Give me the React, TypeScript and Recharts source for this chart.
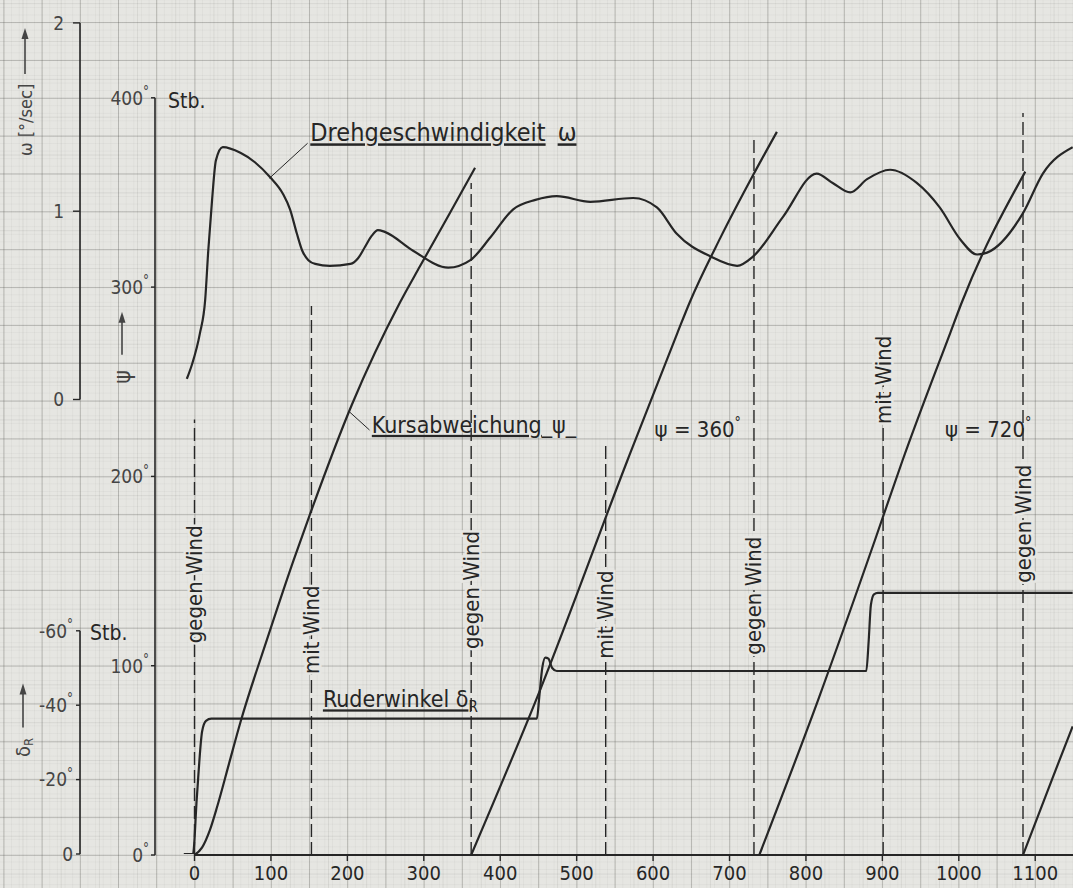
import React from 'react'
import { ComposedChart, Line, XAxis, YAxis, ReferenceLine, ReferenceDot } from 'recharts'

// Drehkreisversuch: Drehgeschwindigkeit, Kursabweichung und Ruderwinkel über der Zeit.
// Drei übereinandergelegte Charts mit gemeinsamer Zeitskala, jeder mit seiner eigenen Ordinate.

const W = 1073
const H = 888

// Maßstab des Originalblatts (Pixel)
const X0 = 194.5 // t = 0 s
const PX_PER_S = 0.7643
const PSI_ZERO = 855
const PX_PER_DEG = 1.893
const OMEGA_ZERO = 399.5
const PX_PER_OMEGA = 188.3
const RUDDER_ZERO = 854
const PX_PER_RUDDER_DEG = 3.72

const tAt = (px: number) => (px - X0) / PX_PER_S
const T_MAX = tAt(W)

const INK = '#262626'
const SOFT_INK = '#454545'
const PAPER = '#e6e6e2'
const FONT = "'DejaVu Sans Condensed', 'DejaVu Sans', sans-serif"

// --- Werte ---
const TIME_TICKS = [0, 100, 200, 300, 400, 500, 600, 700, 800, 900, 1000, 1100]
const PSI_TICKS = [0, 100, 200, 300, 400]
const OMEGA_TICKS = [0, 1, 2]
const RUDDER_TICKS = [0, -20, -40, -60]

// Kursabweichung psi [deg], nach jeweils 360° neu bei 0 begonnen
const psiRun1 = [
  { t: 0, psi: 0 }, { t: 10, psi: 4 }, { t: 20, psi: 13 }, { t: 30, psi: 26 }, { t: 45, psi: 48 },
  { t: 60, psi: 70 }, { t: 95, psi: 114 }, { t: 129, psi: 155 }, { t: 152, psi: 181 }, { t: 206, psi: 238 },
  { t: 269, psi: 292 }, { t: 295, psi: 311 }, { t: 334, psi: 339 }, { t: 367, psi: 363 },
]
const psiRun2 = [
  { t: 362, psi: 0 }, { t: 452, psi: 87 }, { t: 566, psi: 208 }, { t: 632, psi: 276 },
  { t: 648, psi: 292 }, { t: 688, psi: 326 }, { t: 732, psi: 360 }, { t: 762, psi: 382 },
]
const psiRun3 = [
  { t: 739, psi: 0 }, { t: 816, psi: 82 }, { t: 890, psi: 166 }, { t: 926, psi: 208 },
  { t: 989, psi: 276 }, { t: 1004, psi: 292 }, { t: 1087, psi: 361 },
]
const psiRun4 = [{ t: 1084, psi: 0 }, { t: 1122, psi: 40 }, { t: 1149, psi: 68 }]

// Drehgeschwindigkeit omega [deg/s]
const omega = [
  { t: -10, w: 0.11 }, { t: -3, w: 0.19 }, { t: 7, w: 0.35 }, { t: 14, w: 0.53 }, { t: 18, w: 0.79 },
  { t: 23, w: 1.06 }, { t: 28, w: 1.27 }, { t: 37, w: 1.34 }, { t: 60, w: 1.31 }, { t: 79, w: 1.26 },
  { t: 99, w: 1.18 }, { t: 116, w: 1.09 }, { t: 125, w: 1.01 }, { t: 134, w: 0.88 }, { t: 141, w: 0.79 },
  { t: 149, w: 0.74 }, { t: 158, w: 0.72 }, { t: 177, w: 0.71 }, { t: 204, w: 0.72 }, { t: 214, w: 0.75 },
  { t: 223, w: 0.81 }, { t: 232, w: 0.87 }, { t: 240, w: 0.9 }, { t: 249, w: 0.89 }, { t: 286, w: 0.79 },
  { t: 332, w: 0.7 }, { t: 361, w: 0.74 }, { t: 387, w: 0.86 }, { t: 417, w: 1.01 }, { t: 446, w: 1.06 },
  { t: 474, w: 1.08 }, { t: 518, w: 1.05 }, { t: 574, w: 1.07 }, { t: 605, w: 1.02 }, { t: 631, w: 0.88 },
  { t: 675, w: 0.76 }, { t: 710, w: 0.71 }, { t: 731, w: 0.76 }, { t: 770, w: 0.97 }, { t: 814, w: 1.2 },
  { t: 835, w: 1.15 }, { t: 858, w: 1.1 }, { t: 880, w: 1.17 }, { t: 910, w: 1.22 }, { t: 945, w: 1.15 },
  { t: 975, w: 1.02 }, { t: 1002, w: 0.85 }, { t: 1024, w: 0.77 }, { t: 1037, w: 0.78 }, { t: 1084, w: 0.99 },
  { t: 1110, w: 1.2 }, { t: 1149, w: 1.34 },
]

// Ruderwinkel delta_R [deg], Steuerbord negativ
const rudder = [
  { t: -14, d: 0 }, { t: -2, d: 0 }, { t: 3, d: -15 }, { t: 10, d: -33 }, { t: 15, d: -35.8 },
  { t: 22, d: -36.4 }, { t: 448, d: -36.4 }, { t: 451, d: -42 }, { t: 455, d: -50 }, { t: 459, d: -52.8 },
  { t: 463, d: -52.5 }, { t: 468, d: -50 }, { t: 474, d: -49.2 }, { t: 879, d: -49.2 }, { t: 882, d: -57 },
  { t: 885, d: -67 }, { t: 889, d: -69.8 }, { t: 894, d: -70.2 }, { t: 1149, d: -70.2 },
]

// Windrichtung: Zeitpunkt [s] und Beschriftung
const windTimes = [0, 153, 362, 538, 732, 901, 1084]
const windLabels = ['gegen Wind', 'mit Wind', 'gegen Wind', 'mit Wind', 'gegen Wind', 'mit Wind', 'gegen Wind']
// Layout: Oberkante der Strichlinie und Mitte der Beschriftung, in psi-Grad
const windLineTop = [230, 290, 355, 217, 379, 275, 392]
const windLabelAt = [143, 119, 140, 127, 137, 251, 175]

const center = (p: any) => {
  const vb = p?.viewBox ?? {}
  return { x: (vb.x ?? 0) + (vb.width ?? 0) / 2, y: (vb.y ?? 0) + (vb.height ?? 0) / 2 }
}

const underline = { textDecoration: 'underline', textDecorationThickness: '2px', textUnderlineOffset: '4px' } as React.CSSProperties

function DegreeTick(props: any) {
  const { x, y, payload, size = 18, zeroDeg = true } = props
  const v = payload.value
  return (
    <text x={x} y={y} textAnchor="end" fontFamily={FONT} fontSize={size} fill={SOFT_INK}>
      <tspan dy={size * 0.36}>{String(v)}</tspan>
      {(v !== 0 || zeroDeg) && (
        <tspan dy={-size * 0.45} fontSize={size * 0.7}>°</tspan>
      )}
    </text>
  )
}

function Arrow({ x, y1, y2 }: { x: number; y1: number; y2: number }) {
  return (
    <g>
      <line x1={x} y1={y1} x2={x} y2={y2 + 8} stroke={SOFT_INK} strokeWidth={1.6} />
      <polygon points={`${x},${y2} ${x - 3.5},${y2 + 11} ${x + 3.5},${y2 + 11}`} fill={SOFT_INK} />
    </g>
  )
}

function OmegaTitle(p: any) {
  const vb = p.viewBox
  const cx = vb.x + 25
  return (
    <g>
      <text transform={`translate(${cx} ${vb.y + 97}) rotate(-90)`} textAnchor="middle" dominantBaseline="central"
        fontFamily={FONT} fontSize={18} fill={SOFT_INK}>ω [°/sec]</text>
      <Arrow x={cx} y1={vb.y + 51} y2={vb.y + 5} />
    </g>
  )
}

function PsiTitle(p: any) {
  const vb = p.viewBox
  const ax = vb.x + vb.width
  const cx = ax - 33
  return (
    <g>
      <text x={ax + 13} y={vb.y + 10} fontFamily={FONT} fontSize={21} fill={INK}>Stb.</text>
      <text transform={`translate(${cx} ${vb.y + 279}) rotate(-90)`} textAnchor="middle" dominantBaseline="central"
        fontFamily={FONT} fontSize={23} fill={SOFT_INK}>ψ</text>
      <Arrow x={cx} y1={vb.y + 257} y2={vb.y + 214} />
    </g>
  )
}

function RudderTitle(p: any) {
  const vb = p.viewBox
  const ax = vb.x + vb.width
  const cx = vb.x + 23
  return (
    <g>
      <text x={ax + 10} y={vb.y + 84} fontFamily={FONT} fontSize={21} fill={INK}>Stb.</text>
      <text transform={`translate(${cx} ${vb.y + 191}) rotate(-90)`} textAnchor="middle" dominantBaseline="central"
        fontFamily={FONT} fontSize={20} fill={SOFT_INK}>
        δ<tspan dy={5} fontSize={13}>R</tspan>
      </text>
      <Arrow x={cx} y1={vb.y + 171} y2={vb.y + 127} />
    </g>
  )
}

function WindText({ p, text }: { p: any; text: string }) {
  const { x, y } = center(p)
  return (
    <text transform={`translate(${x} ${y}) rotate(-90)`} textAnchor="middle" dominantBaseline="central"
      fontFamily={FONT} fontSize={22} fill={INK} stroke={PAPER} strokeWidth={5} paintOrder="stroke">
      {text}
    </text>
  )
}

function Note({ p, size, children }: { p: any; size: number; children: React.ReactNode }) {
  const { x, y } = center(p)
  return (
    <text x={x} y={y} fontFamily={FONT} fontSize={size} fill={INK}>{children}</text>
  )
}

const layer: React.CSSProperties = { position: 'absolute', left: 0, top: 0 }

function OmegaChart() {
  const top = OMEGA_ZERO - 2 * PX_PER_OMEGA
  return (
    <div style={layer}>
      <ComposedChart width={W} height={H} margin={{ top, right: 0, bottom: H - OMEGA_ZERO, left: 0 }}>
        <XAxis xAxisId="t" type="number" dataKey="t" domain={[tAt(80), T_MAX]} allowDataOverflow hide />
        <YAxis yAxisId="w" type="number" domain={[0, 2]} allowDataOverflow ticks={OMEGA_TICKS} interval={0} width={80}
          axisLine={{ stroke: INK, strokeWidth: 1.6 }} tickLine={{ stroke: INK, strokeWidth: 1.4 }} tickSize={7} tickMargin={9}
          tick={{ fontSize: 19, fill: SOFT_INK, fontFamily: FONT }} label={(p: any) => <OmegaTitle {...p} />} />
        <Line xAxisId="t" yAxisId="w" data={omega} dataKey="w" type="monotone" dot={false}
          stroke={INK} strokeWidth={2.2} isAnimationActive={false} />
      </ComposedChart>
    </div>
  )
}

function RudderChart() {
  const top = RUDDER_ZERO - 80 * PX_PER_RUDDER_DEG
  const tLeft = tAt(80)
  return (
    <div style={layer}>
      <ComposedChart width={W} height={H} margin={{ top, right: 0, bottom: H - RUDDER_ZERO, left: 0 }}>
        <XAxis xAxisId="t" type="number" dataKey="t" domain={[tLeft, T_MAX]} allowDataOverflow hide />
        <YAxis yAxisId="d" type="number" domain={[-80, 0]} reversed allowDataOverflow ticks={RUDDER_TICKS} interval={0}
          width={80} axisLine={false} tickLine={{ stroke: INK, strokeWidth: 1.4 }} tickSize={4} tickMargin={3}
          tick={(p: any) => <DegreeTick {...p} size={19} zeroDeg={false} />} label={(p: any) => <RudderTitle {...p} />} />
        <ReferenceLine xAxisId="t" yAxisId="d" segment={[{ x: tLeft, y: 0 }, { x: tLeft, y: -60 }]}
          stroke={INK} strokeWidth={1.6} />
        <Line xAxisId="t" yAxisId="d" data={rudder} dataKey="d" type="monotone" dot={false}
          stroke={INK} strokeWidth={2.2} isAnimationActive={false} />
      </ComposedChart>
    </div>
  )
}

function CourseChart() {
  const top = PSI_ZERO - 400 * PX_PER_DEG
  return (
    <div style={layer}>
      <ComposedChart width={W} height={H} margin={{ top, right: 0, bottom: H - PSI_ZERO - 30, left: 0 }}>
        <XAxis xAxisId="t" type="number" dataKey="t" domain={[tAt(155), T_MAX]} allowDataOverflow ticks={TIME_TICKS}
          interval={0} height={30} axisLine={false} tickLine={{ stroke: INK, strokeWidth: 1.4 }} tickSize={6} tickMargin={5}
          tick={{ fontSize: 20, fill: INK, fontFamily: FONT }} />
        <YAxis yAxisId="psi" type="number" domain={[0, 400]} allowDataOverflow ticks={PSI_TICKS} interval={0} width={155}
          axisLine={{ stroke: INK, strokeWidth: 1.6 }} tickLine={{ stroke: INK, strokeWidth: 1.4 }} tickSize={4} tickMargin={2}
          tick={(p: any) => <DegreeTick {...p} size={19} />} label={(p: any) => <PsiTitle {...p} />} />

        <ReferenceLine xAxisId="t" yAxisId="psi" segment={[{ x: 0, y: 0 }, { x: T_MAX, y: 0 }]} stroke={INK} strokeWidth={2} />

        {windTimes.map((t, i) => (
          <ReferenceLine key={`wl${i}`} xAxisId="t" yAxisId="psi" segment={[{ x: t, y: 0 }, { x: t, y: windLineTop[i] }]}
            stroke={INK} strokeWidth={1.4} strokeDasharray="13 5" />
        ))}
        {windTimes.map((t, i) => (
          <ReferenceDot key={`wt${i}`} xAxisId="t" yAxisId="psi" x={t} y={windLabelAt[i]} r={0} fill="none" stroke="none"
            label={(p: any) => <WindText p={p} text={windLabels[i]} />} />
        ))}

        {[psiRun1, psiRun2, psiRun3, psiRun4].map((run, i) => (
          <Line key={`psi${i}`} xAxisId="t" yAxisId="psi" data={run} dataKey="psi" type="monotone" dot={false}
            stroke={INK} strokeWidth={2.2} isAnimationActive={false} />
        ))}

        {/* Bezugsstriche der Beschriftungen */}
        <ReferenceLine xAxisId="t" yAxisId="psi" segment={[{ x: 98, y: 357.5 }, { x: 148, y: 376 }]} stroke={INK} strokeWidth={1} />
        <ReferenceLine xAxisId="t" yAxisId="psi" segment={[{ x: 203, y: 234 }, { x: 229, y: 224.5 }]} stroke={INK} strokeWidth={1} />

        <ReferenceDot xAxisId="t" yAxisId="psi" x={151.5} y={377} r={0} fill="none" stroke="none"
          label={(p: any) => (
            <Note p={p} size={25}>
              <tspan style={underline}>Drehgeschwindigkeit</tspan>
              <tspan dx={12} style={underline}>ω</tspan>
            </Note>
          )} />
        <ReferenceDot xAxisId="t" yAxisId="psi" x={232} y={223} r={0} fill="none" stroke="none"
          label={(p: any) => (
            <Note p={p} size={23}>
              <tspan style={underline}>Kursabweichung</tspan>
              <tspan>_ψ_</tspan>
            </Note>
          )} />
        <ReferenceDot xAxisId="t" yAxisId="psi" x={602} y={221} r={0} fill="none" stroke="none"
          label={(p: any) => (
            <Note p={p} size={22}>
              ψ = 360<tspan dy={-10} fontSize={14}>°</tspan>
            </Note>
          )} />
        <ReferenceDot xAxisId="t" yAxisId="psi" x={982} y={221} r={0} fill="none" stroke="none"
          label={(p: any) => (
            <Note p={p} size={22}>
              ψ = 720<tspan dy={-10} fontSize={14}>°</tspan>
            </Note>
          )} />
        <ReferenceDot xAxisId="t" yAxisId="psi" x={168} y={78} r={0} fill="none" stroke="none"
          label={(p: any) => (
            <Note p={p} size={23}>
              <tspan style={underline}>Ruderwinkel δ</tspan>
              <tspan dy={5} fontSize={15}>R</tspan>
            </Note>
          )} />
      </ComposedChart>
    </div>
  )
}

export default function App() {
  const cmX = 2 * 100 * PX_PER_S / 4 // 1 cm des Millimeterpapiers
  const cmY = 100 * PX_PER_DEG / 5
  const offX = X0 % cmX
  const offY = PSI_ZERO % cmY
  const grid = (a: number) => [
    `linear-gradient(to right, rgba(90,90,85,${a}) 1px, transparent 1px)`,
    `linear-gradient(to bottom, rgba(90,90,85,${a}) 1px, transparent 1px)`,
  ]
  return (
    <div
      style={{
        position: 'absolute', left: 0, top: 0, width: W, height: H, overflow: 'hidden',
        backgroundColor: PAPER,
        backgroundImage: [...grid(0.24), ...grid(0.11), ...grid(0.05)].join(','),
        backgroundSize: [
          `${cmX}px ${cmY}px`, `${cmX}px ${cmY}px`,
          `${cmX / 2}px ${cmY / 2}px`, `${cmX / 2}px ${cmY / 2}px`,
          `${cmX / 5}px ${cmY / 5}px`, `${cmX / 5}px ${cmY / 5}px`,
        ].join(','),
        backgroundPosition: `${offX}px ${offY}px`,
      }}
    >
      <OmegaChart />
      <RudderChart />
      <CourseChart />
    </div>
  )
}
